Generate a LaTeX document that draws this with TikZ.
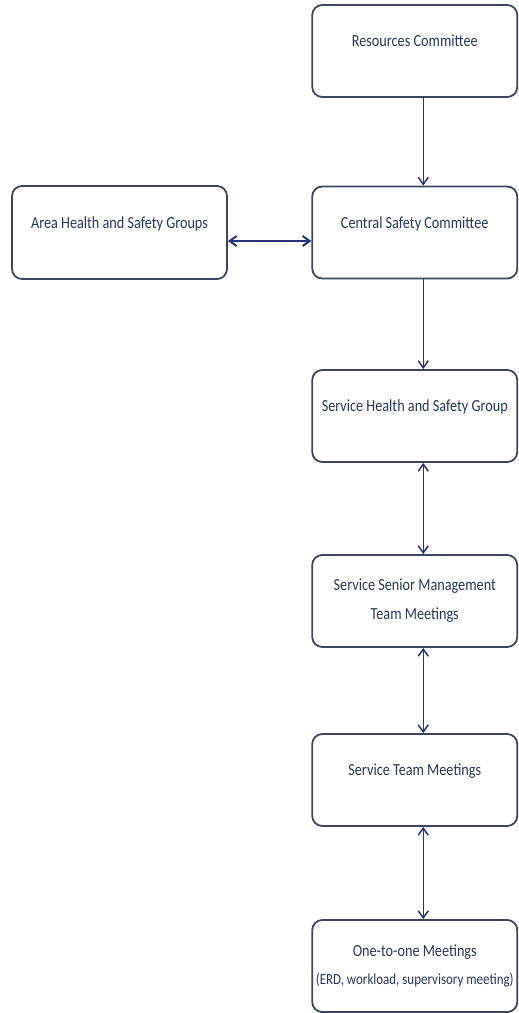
\documentclass[tikz,border=0pt]{standalone}
\usepackage{fontspec}
\setmainfont{Carlito}[FakeStretch=0.84]
\usetikzlibrary{arrows.meta}
\definecolor{boxline}{RGB}{60,70,95}
\definecolor{arrowblue}{RGB}{40,50,130}
\definecolor{boxtext}{RGB}{40,55,90}
\begin{document}
\begin{tikzpicture}[x=1bp, y=1bp, line join=round, line cap=round,
		>={Straight Barb[length=7bp,width=10bp]},
		box/.style={draw=boxline, line width=1.8bp, rounded corners=10bp, minimum width=205bp, minimum height=92bp, inner sep=0pt, text=boxtext, font=\fontsize{17}{29}\selectfont, align=center},
		onebox/.style={box, text depth=20bp},
		link/.style={draw=arrowblue, line width=1.5bp}]
	\useasboundingbox (0,0) rectangle (519,-1013);
	% committee chain on the right
	\node[onebox] (res) at (414.75,-51) {Resources Committee};
	\node[onebox] (cen) at (414.75,-232.5) {Central Safety Committee};
	\node[onebox] (shs) at (414.75,-416) {Service Health and Safety Group};
	\node[box] (ssm) at (414.75,-601) {Service Senior Management\\Team Meetings};
	\node[onebox] (stm) at (414.75,-780) {Service Team Meetings};
	\node[box] (oto) at (414.75,-966) {One-to-one Meetings\\{\fontsize{15.5}{15.5}\selectfont (ERD, workload, supervisory meeting)}};
	% area groups on the left
	\node[onebox, minimum width=215bp, minimum height=93bp] (area) at (119.5,-232.5) {Area Health and Safety Groups};
	\foreach \a/\b in {res/cen, cen/shs} \draw[link,->] ([xshift=8.5bp]\a.south) -- ([xshift=8.5bp]\b.north);
	\foreach \a/\b in {shs/ssm, ssm/stm, stm/oto} \draw[link,<->] ([xshift=8.5bp]\a.south) -- ([xshift=8.5bp]\b.north);
	\draw[link,<->,line width=2bp] ([yshift=-8.5bp]area.east) -- ([yshift=-8.5bp]cen.west);
\end{tikzpicture}
\end{document}
